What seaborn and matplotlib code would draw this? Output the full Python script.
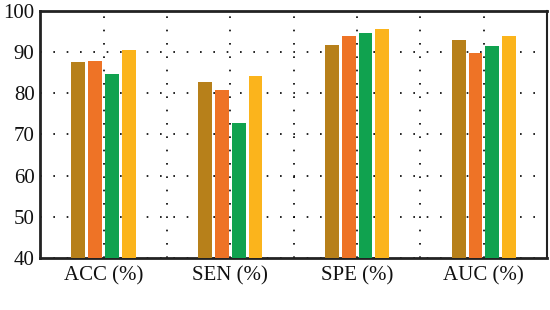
import matplotlib
matplotlib.use("Agg")
import matplotlib.pyplot as plt
import seaborn as sns
import pandas as pd
import numpy as np

categories = ["ACC (%)", "SEN (%)", "SPE (%)", "AUC (%)"]
methods = ["M1", "M2", "M3", "M4"]
m1 = [87.6, 82.8, 91.7, 92.9]
m2 = [87.8, 80.8, 93.9, 89.8]
m3 = [84.7, 72.7, 94.7, 91.4]
m4 = [90.4, 84.2, 95.6, 93.9]
colors = ["#B7801A", "#EE7326", "#10A24F", "#FBB41C"]
yticks = [40, 50, 60, 70, 80, 90, 100]

rows = []
for name, vals in zip(methods, [m1, m2, m3, m4]):
    for c, v in zip(categories, vals):
        rows.append({"cat": c, "method": name, "value": v})
df = pd.DataFrame(rows)

sns.set_style("white")
plt.rcParams["font.family"] = ["Liberation Serif", "DejaVu Serif"]

fig = plt.figure(figsize=(5.5, 3.1), dpi=100)
ax = fig.add_axes([0.073, 0.168, 0.922, 0.797])

sns.barplot(data=df, x="cat", y="value", hue="method", palette=colors,
            width=0.53, gap=0.18, ax=ax, legend=False, zorder=3,
            edgecolor="none", saturation=1)

ax.set_ylim(40, 100)
ax.set_xlim(-0.5, 3.5)
ax.set_yticks(yticks)
ax.set_yticklabels([str(t) for t in yticks], fontsize=15, color="#111111")
ax.set_xticks(range(len(categories)))
ax.set_xticklabels(categories, fontsize=15, color="#111111")
ax.set_xticks(np.arange(0.5, 3.5, 1.0), minor=True)
ax.set_xlabel("")
ax.set_ylabel("")
ax.tick_params(axis="y", which="both", length=0, pad=4)
ax.tick_params(axis="x", which="both", length=0, pad=6)

ax.grid(True, axis="y", linestyle=(0, (1, 7)), color="black", linewidth=1.2, zorder=0)
ax.grid(True, axis="x", which="both", linestyle=(0, (1, 7)), color="black", linewidth=1.2, zorder=0)
ax.set_axisbelow(True)

for s in ["left", "bottom", "top"]:
    ax.spines[s].set_linewidth(2)
    ax.spines[s].set_color("#222222")
ax.spines["right"].set_linewidth(1.5)
ax.spines["right"].set_color("#222222")

fig.savefig("out.png", dpi=100)
